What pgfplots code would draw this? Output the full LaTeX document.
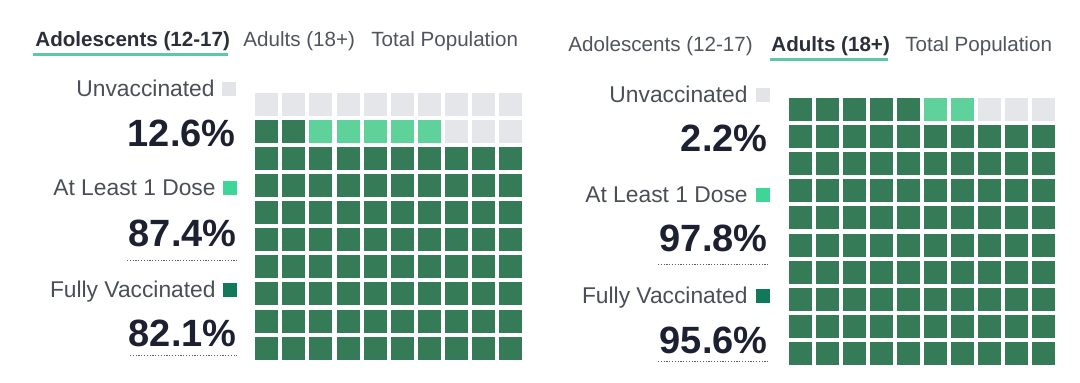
\documentclass[border=0pt]{standalone}
\usepackage{pgfplots}
\pgfplotsset{compat=1.18}
\usepackage{fontspec}
\setmainfont{Liberation Sans}
\definecolor{cdark}{HTML}{367B57}
\definecolor{clight}{HTML}{5FD29B}
\definecolor{cgray}{HTML}{E5E6EA}
\definecolor{lgdark}{HTML}{12795A}
\definecolor{lglight}{HTML}{3DD598}
\definecolor{lggray}{HTML}{E3E4E8}
\definecolor{labtxt}{HTML}{4A4E57}
\definecolor{tabtxt}{HTML}{50545C}
\definecolor{tabbold}{HTML}{2B2F3A}
\definecolor{pcttxt}{HTML}{1C2030}
\definecolor{uline}{HTML}{5CC8A8}
\definecolor{dotc}{HTML}{5A5E66}
\newcommand{\tabf}{\fontsize{10.3}{12}\selectfont}
\newcommand{\labf}{\fontsize{11.4}{13}\selectfont}
\newcommand{\pctf}{\fontsize{19}{22}\selectfont\bfseries}
\pgfplotsset{waffle/.style={hide axis, scale only axis, width=135.5pt, height=135.5pt,
  xmin=0.5, xmax=10.5, ymin=0.5, ymax=10.5, anchor=center, clip=false},
  cell/.style={only marks, mark=square*, mark size=5.5pt, color=#1, mark options={line width=0pt}}}
\tikzset{dotl/.style={dotc, line width=0.5pt, dash pattern=on 0.6pt off 0.8pt}}
\begin{document}
\begin{tikzpicture}[x=0.5pt,y=-0.5pt]
\useasboundingbox (0,0) rectangle (1080,383);
% ---------- Left waffle ----------
\begin{axis}[waffle, at={(194.35pt,-113.1pt)}]
\addplot[cell=cdark] coordinates {
(1,1)(2,1)(3,1)(4,1)(5,1)(6,1)(7,1)(8,1)(9,1)(10,1)
(1,2)(2,2)(3,2)(4,2)(5,2)(6,2)(7,2)(8,2)(9,2)(10,2)
(1,3)(2,3)(3,3)(4,3)(5,3)(6,3)(7,3)(8,3)(9,3)(10,3)
(1,4)(2,4)(3,4)(4,4)(5,4)(6,4)(7,4)(8,4)(9,4)(10,4)
(1,5)(2,5)(3,5)(4,5)(5,5)(6,5)(7,5)(8,5)(9,5)(10,5)
(1,6)(2,6)(3,6)(4,6)(5,6)(6,6)(7,6)(8,6)(9,6)(10,6)
(1,7)(2,7)(3,7)(4,7)(5,7)(6,7)(7,7)(8,7)(9,7)(10,7)
(1,8)(2,8)(3,8)(4,8)(5,8)(6,8)(7,8)(8,8)(9,8)(10,8)
(1,9)(2,9)};
\addplot[cell=clight] coordinates {(3,9)(4,9)(5,9)(6,9)(7,9)};
\addplot[cell=cgray] coordinates {(8,9)(9,9)(10,9)
(1,10)(2,10)(3,10)(4,10)(5,10)(6,10)(7,10)(8,10)(9,10)(10,10)};
\end{axis}
% ---------- Right waffle ----------
\begin{axis}[waffle, at={(461pt,-115.75pt)}]
\addplot[cell=cdark] coordinates {
(1,1)(2,1)(3,1)(4,1)(5,1)(6,1)(7,1)(8,1)(9,1)(10,1)
(1,2)(2,2)(3,2)(4,2)(5,2)(6,2)(7,2)(8,2)(9,2)(10,2)
(1,3)(2,3)(3,3)(4,3)(5,3)(6,3)(7,3)(8,3)(9,3)(10,3)
(1,4)(2,4)(3,4)(4,4)(5,4)(6,4)(7,4)(8,4)(9,4)(10,4)
(1,5)(2,5)(3,5)(4,5)(5,5)(6,5)(7,5)(8,5)(9,5)(10,5)
(1,6)(2,6)(3,6)(4,6)(5,6)(6,6)(7,6)(8,6)(9,6)(10,6)
(1,7)(2,7)(3,7)(4,7)(5,7)(6,7)(7,7)(8,7)(9,7)(10,7)
(1,8)(2,8)(3,8)(4,8)(5,8)(6,8)(7,8)(8,8)(9,8)(10,8)
(1,9)(2,9)(3,9)(4,9)(5,9)(6,9)(7,9)(8,9)(9,9)(10,9)
(1,10)(2,10)(3,10)(4,10)(5,10)};
\addplot[cell=clight] coordinates {(6,10)(7,10)};
\addplot[cell=cgray] coordinates {(8,10)(9,10)(10,10)};
\end{axis}
% ---------- Left panel text ----------
\node[anchor=base west, inner sep=0, text=tabbold, font=\tabf\bfseries] at (35,47) {Adolescents (12-17)};
\node[anchor=base west, inner sep=0, text=tabtxt, font=\tabf] at (243,47) {Adults (18+)};
\node[anchor=base west, inner sep=0, text=tabtxt, font=\tabf] at (371,47) {Total Population};
\draw[uline, line width=1.5pt] (33,55) -- (228,55);
\node[anchor=base east, inner sep=0, text=labtxt, font=\labf] at (215,97) {Unvaccinated};
\fill[lggray] (222,82) rectangle (236,96);
\node[anchor=base east, inner sep=0, text=pcttxt, font=\pctf] at (236,147) {12.6\%};
\node[anchor=base east, inner sep=0, text=labtxt, font=\labf] at (216,196) {At Least 1 Dose};
\fill[lglight] (223,181) rectangle (237,195);
\node[anchor=base east, inner sep=0, text=pcttxt, font=\pctf] at (237,247) {87.4\%};
\draw[dotl] (127,261) -- (237,261);
\node[anchor=base east, inner sep=0, text=labtxt, font=\labf] at (216,298) {Fully Vaccinated};
\fill[lgdark] (223,283) rectangle (237,297);
\node[anchor=base east, inner sep=0, text=pcttxt, font=\pctf] at (237,347) {82.1\%};
\draw[dotl] (130,356) -- (237,356);
% ---------- Right panel text ----------
\node[anchor=base west, inner sep=0, text=tabtxt, font=\tabf] at (568,52) {Adolescents (12-17)};
\node[anchor=base west, inner sep=0, text=tabbold, font=\tabf\bfseries] at (771,52) {Adults (18+)};
\node[anchor=base west, inner sep=0, text=tabtxt, font=\tabf] at (905,52) {Total Population};
\draw[uline, line width=1.5pt] (770,60) -- (888,60);
\node[anchor=base east, inner sep=0, text=labtxt, font=\labf] at (748,103) {Unvaccinated};
\fill[lggray] (756,88) rectangle (770,102);
\node[anchor=base east, inner sep=0, text=pcttxt, font=\pctf] at (768,152) {2.2\%};
\node[anchor=base east, inner sep=0, text=labtxt, font=\labf] at (748,203) {At Least 1 Dose};
\fill[lglight] (756,188) rectangle (770,202);
\node[anchor=base east, inner sep=0, text=pcttxt, font=\pctf] at (768,252) {97.8\%};
\draw[dotl] (658,265) -- (768,265);
\node[anchor=base east, inner sep=0, text=labtxt, font=\labf] at (748,304) {Fully Vaccinated};
\fill[lgdark] (756,289) rectangle (770,303);
\node[anchor=base east, inner sep=0, text=pcttxt, font=\pctf] at (768,354) {95.6\%};
\draw[dotl] (658,362) -- (768,362);
\end{tikzpicture}
\end{document}
